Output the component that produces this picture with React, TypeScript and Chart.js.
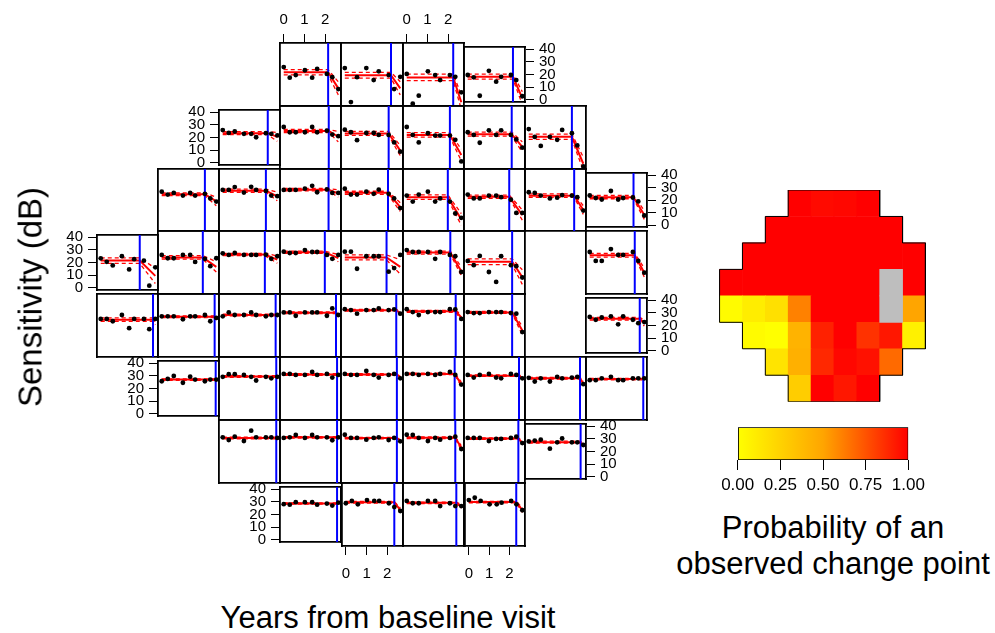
import React, { useEffect, useRef } from 'react';
import { Chart, registerables } from 'chart.js';

Chart.register(...registerables);

const FONT = '"Liberation Sans", Arial, Helvetica, sans-serif';

// ---------------- data ----------------
const visitYears = [0, 0.29, 0.58, 1.02, 1.37, 1.61, 2.08, 2.34, 2.63];
const xTickValues = [0, 1, 2];
const yTickValues = [0, 10, 20, 30, 40];
const probTickValues = [0, 0.25, 0.5, 0.75, 1];

// visual-field layout: first / last column of each row, blind spot cells
const rowFirstCol = [3, 2, 1, 0, 0, 1, 2, 3];
const rowLastCol = [6, 7, 8, 8, 8, 8, 7, 6];
const blindSpotRows = [3, 4];
const blindSpotCols = [7, 7];

const panelRow = [0, 0, 0, 0, 1, 1, 1, 1, 1, 1, 2, 2, 2, 2, 2, 2, 2, 2, 3, 3, 3, 3, 3, 3, 3, 3, 4, 4, 4, 4, 4, 4, 4, 4, 5, 5, 5, 5, 5, 5, 5, 5, 6, 6, 6, 6, 6, 6, 7, 7, 7, 7];
const panelCol = [3, 4, 5, 6, 2, 3, 4, 5, 6, 7, 1, 2, 3, 4, 5, 6, 7, 8, 0, 1, 2, 3, 4, 5, 6, 8, 0, 1, 2, 3, 4, 5, 6, 8, 1, 2, 3, 4, 5, 6, 7, 8, 2, 3, 4, 5, 6, 7, 3, 4, 5, 6];

// observed sensitivities (dB) at each visit, one list per location
const sensitivity = [
  [25.1, 17.8, 19.6, 22.9, 17.8, 23.8, 20.4, 18.2, 10.0],
  [24.4, 1.1, 18.2, 24.4, 16.2, 22.2, 19.6, 10.0, 18.4],
  [20.4, 0.0, 5.5, 22.2, 19.6, 16.2, 19.6, 18.4, 7.8],
  [19.6, 17.8, 3.3, 22.9, 14.4, 18.2, 19.6, 15.6, 2.9],
  [25.8, 23.6, 24.7, 22.9, 22.9, 20.2, 23.4, 22.9, 21.6],
  [27.2, 23.6, 23.6, 23.6, 27.2, 23.6, 24.7, 22.0, 20.9],
  [25.4, 23.6, 18.2, 23.1, 23.1, 21.8, 21.8, 16.6, 10.3],
  [27.2, 21.8, 16.6, 22.9, 21.3, 21.3, 21.3, 18.4, 3.6],
  [23.6, 21.8, 16.4, 24.9, 21.8, 24.9, 21.8, 18.7, 13.0],
  [25.8, 20.4, 14.2, 20.4, 18.4, 25.2, 22.9, 14.6, 0.2],
  [25.8, 23.8, 24.9, 23.1, 24.9, 23.1, 24.3, 21.1, 18.9],
  [27.0, 27.0, 29.0, 25.2, 29.2, 27.0, 26.3, 23.1, 22.7],
  [27.0, 27.0, 27.0, 27.9, 29.9, 25.4, 27.4, 24.9, 24.9],
  [27.9, 23.8, 23.8, 25.8, 24.3, 27.2, 24.3, 21.1, 14.4],
  [23.1, 18.9, 23.8, 25.8, 18.9, 21.1, 18.9, 10.6, 7.6],
  [23.8, 21.1, 21.1, 23.1, 23.1, 22.0, 20.2, 11.0, 11.0],
  [25.4, 24.9, 23.1, 21.1, 21.6, 23.4, 23.1, 22.0, 12.6],
  [23.6, 21.6, 20.4, 27.2, 20.4, 21.6, 22.0, 18.9, 7.6],
  [23.3, 20.5, 17.7, 25.0, 14.6, 22.6, 21.4, 1.8, 16.2],
  [25.2, 22.9, 22.9, 25.2, 25.2, 20.4, 22.5, 17.5, 22.9],
  [26.3, 25.2, 26.5, 25.2, 25.2, 25.2, 25.4, 22.5, 24.3],
  [27.4, 26.5, 26.5, 28.5, 27.2, 27.2, 25.2, 22.5, 25.2],
  [27.4, 27.4, 15.7, 24.3, 24.3, 24.3, 13.7, 16.2, 25.2],
  [28.5, 27.2, 27.2, 27.2, 22.5, 27.2, 25.2, 24.3, 13.5],
  [21.1, 18.2, 24.5, 13.5, 6.7, 24.3, 18.2, 17.5, 9.7],
  [27.2, 21.1, 21.1, 29.2, 25.2, 25.2, 27.2, 21.1, 13.0],
  [24.5, 24.5, 22.9, 27.2, 18.2, 24.5, 24.5, 17.5, 24.5],
  [26.3, 26.3, 26.3, 24.3, 26.3, 26.3, 27.2, 22.9, 25.2],
  [26.3, 29.0, 27.2, 27.2, 29.0, 27.2, 26.3, 27.2, 27.2],
  [29.0, 29.0, 26.7, 29.0, 29.0, 29.0, 26.7, 31.7, 27.2],
  [31.2, 30.6, 28.1, 30.6, 30.6, 31.7, 30.6, 31.0, 28.1],
  [31.2, 29.2, 27.2, 29.2, 29.2, 29.2, 31.2, 31.0, 24.5],
  [29.2, 28.5, 28.5, 29.2, 29.2, 29.2, 28.5, 28.1, 15.5],
  [26.7, 24.5, 26.3, 27.2, 20.9, 27.2, 24.5, 21.8, 22.7],
  [25.7, 27.5, 29.8, 24.5, 29.3, 27.0, 25.7, 27.0, 27.0],
  [28.0, 29.8, 29.8, 29.3, 28.0, 25.5, 28.0, 27.0, 28.0],
  [30.0, 30.0, 29.3, 29.3, 31.4, 29.3, 30.0, 27.5, 29.3],
  [30.0, 29.3, 29.3, 32.0, 29.3, 27.5, 29.3, 30.0, 27.0],
  [30.0, 30.0, 29.3, 30.0, 29.3, 30.0, 31.4, 29.3, 22.7],
  [29.3, 27.5, 29.3, 30.0, 27.5, 27.0, 30.0, 29.3, 27.0],
  [27.3, 24.8, 27.0, 24.8, 28.0, 27.0, 27.5, 28.0, 23.0],
  [25.7, 25.7, 27.0, 28.0, 25.7, 25.7, 27.0, 27.0, 27.0],
  [29.7, 27.9, 30.2, 27.2, 34.3, 29.7, 29.7, 29.7, 29.3],
  [29.3, 29.7, 31.3, 29.3, 31.3, 29.7, 29.7, 27.7, 29.7],
  [31.5, 29.3, 29.3, 28.1, 29.3, 29.7, 27.9, 29.3, 27.0],
  [31.5, 31.3, 29.3, 27.2, 29.3, 28.1, 29.3, 30.2, 21.7],
  [29.3, 29.3, 29.3, 27.2, 28.6, 28.6, 29.3, 30.2, 25.8],
  [27.9, 28.6, 29.3, 22.2, 27.2, 30.2, 27.2, 27.2, 25.1],
  [28.1, 27.7, 29.7, 29.7, 29.7, 27.7, 28.6, 27.0, 29.3],
  [27.7, 29.3, 27.0, 29.9, 29.3, 29.3, 27.7, 25.1, 22.4],
  [29.3, 27.7, 27.7, 29.3, 29.3, 25.8, 27.7, 25.8, 25.8],
  [29.9, 31.5, 29.3, 27.0, 27.0, 28.1, 29.3, 27.0, 22.9],
];

// fitted change-point model: level before, value at last visit, change point (years)
const fitLevel = [21.5, 19.5, 18.0, 18.3, 23.4, 24.5, 22.8, 21.8, 22.3, 20.5, 24.0, 26.5, 27.2, 25.0, 22.0, 22.3, 23.0, 22.3, 21.5, 23.5, 25.5, 27.0, 23.5, 26.8, 20.5, 25.0, 24.0, 26.0, 27.2, 28.7, 30.5, 29.7, 29.0, 25.3, 27.0, 28.2, 29.6, 29.6, 30.0, 28.8, 27.0, 26.5, 29.3, 29.7, 29.2, 29.4, 28.9, 27.3, 28.6, 28.4, 28.0, 28.5];
const fitEnd = [10.5, 10.5, 1.0, 1.5, 20.5, 20.5, 11.0, 8.0, 13.5, 2.0, 19.0, 22.5, 24.5, 15.0, 6.5, 9.5, 13.0, 8.0, 9.5, 17.0, 22.0, 23.0, 17.0, 14.0, 10.0, 13.0, 23.0, 25.0, 27.0, 27.5, 28.5, 25.5, 16.5, 22.0, 27.0, 28.0, 29.3, 28.0, 23.0, 27.3, 23.5, 26.5, 29.3, 29.3, 27.8, 22.5, 26.0, 25.3, 28.4, 23.0, 25.5, 23.0];
const changePoint = [2.14, 2.19, 2.24, 2.18, 2.17, 2.17, 2.08, 2.08, 2.12, 2.08, 2.08, 2.08, 2.16, 2.05, 1.98, 2.0, 2.19, 2.11, 1.88, 1.98, 2.03, 1.98, 1.98, 2.1, 2.14, 2.17, 2.52, 2.55, 2.55, 2.52, 2.44, 2.36, 2.14, 2.41, 2.6, 2.58, 2.57, 2.47, 2.31, 2.47, 2.47, 2.58, 2.58, 2.57, 2.47, 2.34, 2.44, 2.5, 2.57, 2.34, 2.39, 2.33];
// half width of the credible band before the change and at the last visit
const bandFlat = [1.8, 2.0, 2.2, 2.0, 1.2, 1.1, 1.4, 1.5, 1.4, 1.8, 1.0, 1.1, 0.9, 1.1, 1.6, 1.1, 1.2, 1.3, 2.2, 1.2, 0.8, 0.8, 1.7, 1.0, 2.0, 1.3, 1.2, 0.6, 0.6, 0.6, 0.6, 0.6, 0.6, 1.0, 0.6, 0.6, 0.5, 0.5, 0.5, 0.5, 0.6, 0.5, 0.6, 0.5, 0.5, 0.6, 0.5, 0.8, 0.5, 0.5, 0.5, 0.5];
const bandEnd = [4.5, 4.5, 5.0, 5.0, 3.5, 3.5, 3.5, 4.0, 3.5, 4.5, 3.0, 3.0, 2.5, 3.0, 4.0, 3.5, 3.0, 3.5, 6.0, 3.5, 2.5, 2.5, 5.0, 3.0, 5.0, 3.0, 2.5, 1.5, 1.0, 1.5, 1.5, 2.0, 3.0, 2.5, 0.8, 0.8, 1.0, 1.2, 1.5, 1.2, 1.5, 0.8, 0.8, 0.8, 1.2, 1.5, 1.2, 1.5, 0.8, 1.5, 1.2, 1.5];

// probability of an observed change point, per location
const changeProb = [
  1.0, 0.97, 0.98, 1.0,
  1.0, 1.0, 1.0, 1.0, 1.0, 1.0,
  1.0, 1.0, 1.0, 1.0, 1.0, 1.0, 1.0, 1.0,
  1.0, 1.0, 1.0, 1.0, 1.0, 1.0, 1.0, 1.0,
  0.02, 0.1, 0.17, 0.61, 1.0, 1.0, 1.0, 0.5,
  0.02, 0.0, 0.42, 0.9, 1.0, 0.85, 0.93, 0.08,
  0.15, 0.44, 0.88, 0.98, 0.95, 0.68,
  0.28, 1.0, 0.93, 1.0,
];

// ---------------- layout (pixels) ----------------
const X_MIN = -0.18, X_MAX = 2.76, Y_MIN = -1.6, Y_MAX = 41.6;
const GRID_LEFT = 97, COL_W = 61.1, GRID_TOP = 42.7, ROW_H = 62.9;
const HEAT = { left: 706.7, top: 190, right: 938.3, bottom: 401.7 };
const CBAR = { left: 737.7, top: 427.3, right: 908.3, bottom: 460 };

function probColor(p: number) {
  const g = p <= 0.5 ? 255 - 90 * (p / 0.5) : 165 * (1 - (p - 0.5) / 0.5);
  return `rgb(255,${Math.round(g)},0)`;
}

function panelBox(i: number) {
  const r = panelRow[i], c = panelCol[i];
  const x0 = Math.round(GRID_LEFT + c * COL_W), x1 = Math.round(GRID_LEFT + (c + 1) * COL_W);
  const y0 = Math.round(GRID_TOP + r * ROW_H), y1 = Math.round(GRID_TOP + (r + 1) * ROW_H);
  const top = r === 0 && (c === 3 || c === 5);
  const bottom = r === 7 && (c === 4 || c === 6);
  const left = r % 2 === 1 && c === rowFirstCol[r];
  const right = r % 2 === 0 && c === rowLastCol[r];
  const pl = left ? 50 : 10, pr = right ? 50 : 10, pt = top ? 50 : 10, pb = bottom ? 50 : 10;
  return { top, bottom, left, right, pl, pr, pt, pb, cl: x0 - pl, ct: y0 - pt, cw: x1 - x0 + pl + pr, ch: y1 - y0 + pt + pb };
}

function axis(position: string, isX: boolean, labels: boolean, size: number, pad: number) {
  return {
    type: 'linear',
    position,
    min: isX ? X_MIN : Y_MIN,
    max: isX ? X_MAX : Y_MAX,
    display: true,
    afterBuildTicks: (s: any) => { s.ticks = (isX ? xTickValues : yTickValues).map((v) => ({ value: v })); },
    afterFit: (s: any) => { if (isX) s.height = size; else s.width = size; },
    ticks: { display: labels, color: '#000', font: { family: FONT, size: 15 }, padding: pad, maxRotation: 0, autoSkip: false },
    grid: { display: labels, drawOnChartArea: false, drawTicks: true, tickLength: 9, color: '#000', lineWidth: 1 },
    border: { display: true, color: '#000', width: 1.8 },
  };
}

function panelConfig(i: number, b: ReturnType<typeof panelBox>): any {
  const lvl = fitLevel[i], end = fitEnd[i], cp = changePoint[i], bw = bandFlat[i], be = bandEnd[i];
  const last = visitYears[visitYears.length - 1];
  const first = visitYears[0];
  return {
    type: 'scatter',
    data: {
      datasets: [
        { data: visitYears.map((x, k) => ({ x, y: sensitivity[i][k] })), pointRadius: 2.4, pointBackgroundColor: '#000', pointBorderWidth: 0, showLine: false },
        { data: [{ x: cp, y: Y_MIN }, { x: cp, y: Y_MAX }], showLine: true, borderColor: '#0000ff', borderWidth: 2, pointRadius: 0 },
        { data: [{ x: first, y: lvl }, { x: cp, y: lvl }, { x: last, y: end }], showLine: true, borderColor: '#ff0000', borderWidth: 2, pointRadius: 0 },
        { data: [{ x: first, y: lvl + bw }, { x: cp, y: lvl + bw }, { x: last, y: end + be }], showLine: true, borderColor: '#ff0000', borderWidth: 1.3, borderDash: [4, 3], pointRadius: 0 },
        { data: [{ x: first, y: lvl - bw }, { x: cp, y: lvl - bw }, { x: last, y: end - be }], showLine: true, borderColor: '#ff0000', borderWidth: 1.3, borderDash: [4, 3], pointRadius: 0 },
      ],
    },
    options: {
      responsive: false,
      animation: false,
      devicePixelRatio: 1,
      events: [],
      layout: { padding: 0 },
      plugins: { legend: { display: false }, tooltip: { enabled: false } },
      scales: {
        x: axis('bottom', true, b.bottom, b.pb, 10),
        xTop: axis('top', true, b.top, b.pt, 5),
        y: axis('left', false, b.left, b.pl, 5),
        yRight: axis('right', false, b.right, b.pr, 5),
      },
    },
  };
}

function heatConfig(): any {
  const cells: any[] = [];
  const colors: string[] = [];
  panelRow.forEach((r, i) => {
    cells.push({ x: panelCol[i], y: [r, r + 1] });
    colors.push(probColor(changeProb[i]));
  });
  blindSpotRows.forEach((r, k) => {
    cells.push({ x: blindSpotCols[k], y: [r, r + 1] });
    colors.push('#bebebe');
  });
  const outline: any[] = [{ x: rowFirstCol[0] - 0.5, y: 0 }];
  for (let r = 0; r < rowLastCol.length; r++) {
    outline.push({ x: rowLastCol[r] + 0.5, y: r });
    outline.push({ x: rowLastCol[r] + 0.5, y: r + 1 });
  }
  for (let r = rowFirstCol.length - 1; r >= 0; r--) {
    outline.push({ x: rowFirstCol[r] - 0.5, y: r + 1 });
    outline.push({ x: rowFirstCol[r] - 0.5, y: r });
  }
  const cols = [0, 1, 2, 3, 4, 5, 6, 7, 8];
  return {
    type: 'bar',
    data: {
      datasets: [
        { type: 'line', data: outline, borderColor: '#000', borderWidth: 1, pointRadius: 0, fill: false, order: 0 },
        { type: 'bar', data: cells, backgroundColor: colors, borderWidth: 0, barPercentage: 1, categoryPercentage: 1, order: 1 },
      ],
    },
    options: {
      responsive: false,
      animation: false,
      devicePixelRatio: 1,
      events: [],
      layout: { padding: { left: HEAT.left - 700, top: HEAT.top - 184, right: 945 - HEAT.right, bottom: 408 - HEAT.bottom } },
      plugins: { legend: { display: false }, tooltip: { enabled: false } },
      scales: {
        x: { type: 'linear', min: -0.5, max: 8.5, display: false, afterBuildTicks: (s: any) => { s.ticks = cols.map((v) => ({ value: v })); } },
        y: { type: 'linear', min: 0, max: 8, reverse: true, display: false },
      },
    },
  };
}

function colorbarConfig(): any {
  return {
    type: 'bar',
    data: {
      labels: [''],
      datasets: [{
        data: [[0, 1]],
        backgroundColor: (ctx: any) => {
          const { chart } = ctx;
          const area = chart.chartArea;
          if (!area) return '#ffa500';
          const g = chart.ctx.createLinearGradient(area.left, 0, area.right, 0);
          g.addColorStop(0, probColor(0));
          g.addColorStop(0.5, probColor(0.5));
          g.addColorStop(1, probColor(1));
          return g;
        },
        borderColor: '#000',
        borderWidth: 1,
        borderSkipped: false,
        barPercentage: 1,
        categoryPercentage: 1,
      }],
    },
    options: {
      indexAxis: 'y',
      responsive: false,
      animation: false,
      devicePixelRatio: 1,
      events: [],
      layout: { padding: { left: CBAR.left - 700, top: CBAR.top - 420, right: 950 - CBAR.right, bottom: 0 } },
      plugins: { legend: { display: false }, tooltip: { enabled: false } },
      scales: {
        x: {
          type: 'linear', min: 0, max: 1, position: 'bottom',
          afterBuildTicks: (s: any) => { s.ticks = probTickValues.map((v) => ({ value: v })); },
          afterFit: (s: any) => { s.height = 500 - CBAR.bottom; },
          ticks: { color: '#000', font: { family: FONT, size: 17 }, padding: 5, maxRotation: 0, autoSkip: false, callback: (v: any) => Number(v).toFixed(2) },
          grid: { drawOnChartArea: false, tickLength: 10, color: '#000', lineWidth: 1 },
          border: { display: false },
        },
        y: { display: false },
      },
    },
  };
}

const textStyle = (size: number): React.CSSProperties => ({
  position: 'absolute', whiteSpace: 'nowrap', fontFamily: FONT, fontSize: size, color: '#000', lineHeight: 1, transform: 'translate(-50%, -50%)',
});

export default function App() {
  const panelRefs = useRef<(HTMLCanvasElement | null)[]>([]);
  const heatRef = useRef<HTMLCanvasElement | null>(null);
  const barRef = useRef<HTMLCanvasElement | null>(null);
  const boxes = panelRow.map((_, i) => panelBox(i));

  useEffect(() => {
    const charts: Chart[] = [];
    boxes.forEach((b, i) => {
      const cv = panelRefs.current[i];
      if (cv) charts.push(new Chart(cv, panelConfig(i, b)));
    });
    if (heatRef.current) charts.push(new Chart(heatRef.current, heatConfig()));
    if (barRef.current) charts.push(new Chart(barRef.current, colorbarConfig()));
    return () => charts.forEach((c) => c.destroy());
  }, []);

  return (
    <div style={{ position: 'fixed', left: 0, top: 0, width: 995, height: 633, background: '#fff', overflow: 'hidden' }}>
      {boxes.map((b, i) => (
        <canvas key={i} ref={(el) => { panelRefs.current[i] = el; }} width={b.cw} height={b.ch}
          style={{ position: 'absolute', left: b.cl, top: b.ct, width: b.cw, height: b.ch }} />
      ))}
      <canvas ref={heatRef} width={245} height={224} style={{ position: 'absolute', left: 700, top: 184, width: 245, height: 224 }} />
      <canvas ref={barRef} width={250} height={80} style={{ position: 'absolute', left: 700, top: 420, width: 250, height: 80 }} />
      <div style={{ ...textStyle(33), left: 30, top: 297, transform: 'translate(-50%, -50%) rotate(-90deg)' }}>Sensitivity (dB)</div>
      <div style={{ ...textStyle(31), left: 388, top: 617 }}>Years from baseline visit</div>
      <div style={{ ...textStyle(31), left: 833, top: 527 }}>Probability of an</div>
      <div style={{ ...textStyle(31), left: 833, top: 563 }}>observed change point</div>
    </div>
  );
}
